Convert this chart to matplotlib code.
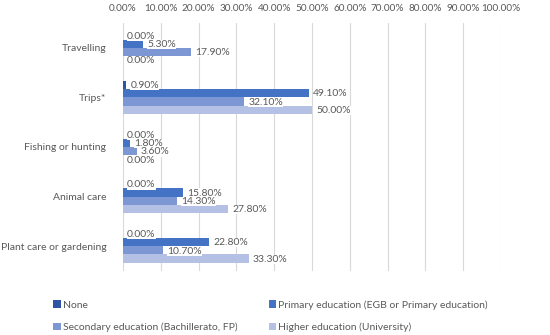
import numpy as np
import matplotlib.pyplot as plt
from matplotlib.patches import Patch

# ------------------------------------------------------------
# Data
# ------------------------------------------------------------
categories = ["Travelling", "Trips*", "Fishing or hunting", "Animal care",
              "Plant care or gardening"]
series_names = ["None",
                "Primary education (EGB or Primary education)",
                "Secondary education (Bachillerato, FP)",
                "Higher education (University)"]
none_vals = [0.0, 0.9, 0.0, 0.0, 0.0]
primary_vals = [5.3, 49.1, 1.8, 15.8, 22.8]
secondary_vals = [17.9, 32.1, 3.6, 14.3, 10.7]
higher_vals = [0.0, 50.0, 0.0, 27.8, 33.3]
ticks = np.arange(0, 101, 10)

series = [none_vals, primary_vals, secondary_vals, higher_vals]
colors = ["#2E54A4", "#4472C4", "#7D96D4", "#B4C1E4"]
text_color = "#595959"

plt.rcParams["font.family"] = ["Lato", "DejaVu Sans"]

fig = plt.figure(figsize=(5.5, 3.35), dpi=100)
ax = fig.add_axes([123 / 550, 1 - 271 / 335, 378 / 550, 248 / 335])

y = np.arange(len(categories))
h = 0.167
for j, (vals, col) in enumerate(zip(series, colors)):
    pos = y + (j - 1.5) * h
    ax.barh(pos, vals, height=h, color=col, zorder=2)
    for p, v in zip(pos, vals):
        ax.annotate(f"{v:.2f}%", (v, p), xytext=(3, -0.5), textcoords="offset points",
                    ha="left", va="center", fontsize=7.5, color=text_color, zorder=4,
                    bbox=dict(boxstyle="square,pad=0.02", fc="white", ec="none"))

ax.set_xlim(0, 100)
ax.set_ylim(len(categories) - 0.5, -0.5)
ax.set_xticks(ticks)
ax.set_xticklabels([f"{t:.2f}%" for t in ticks])
ax.xaxis.tick_top()
ax.set_yticks(y)
ax.set_yticklabels(categories)
ax.tick_params(axis="both", length=0, labelsize=7.5, labelcolor=text_color)
ax.tick_params(axis="x", pad=7, labelsize=7.2)
ax.tick_params(axis="y", pad=12)
for s in ax.spines.values():
    s.set_visible(False)
ax.grid(axis="x", color="#D9D9D9", linewidth=0.8, zorder=0)
ax.set_axisbelow(True)

# legend reads row by row: None, Primary / Secondary, Higher
order = [0, 2, 1, 3]
handles = [Patch(facecolor=colors[i], edgecolor="none") for i in order]
labels = [series_names[i] for i in order]
fig.legend(handles, labels, ncol=2, loc="lower left",
           bbox_to_anchor=(44 / 550, -0.02), frameon=False, fontsize=7.5,
           labelcolor=text_color, handlelength=0.7, handleheight=0.7,
           handletextpad=0.2, columnspacing=3.0, labelspacing=1.25)

fig.savefig("out.png", dpi=100)
